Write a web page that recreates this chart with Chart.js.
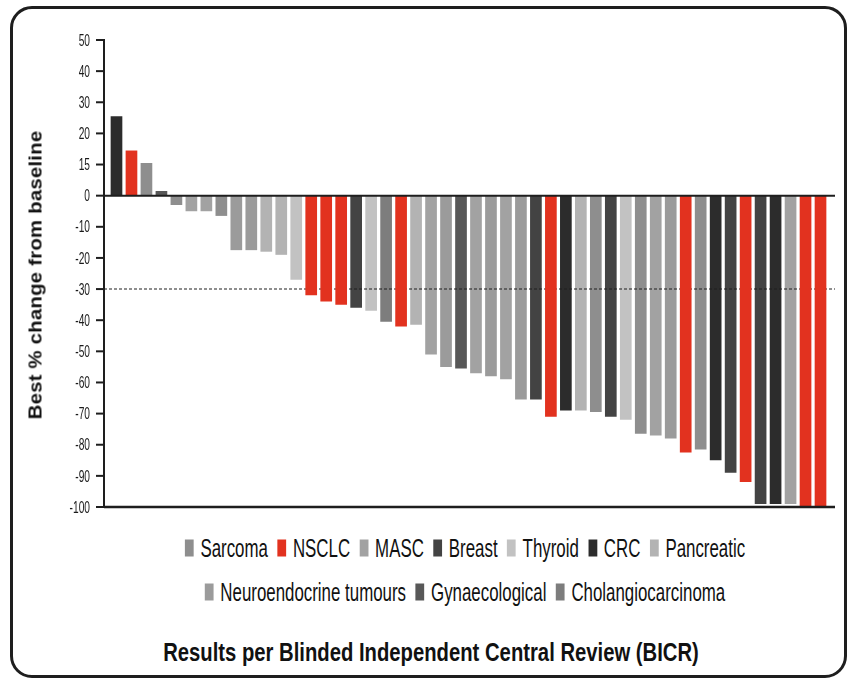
<!DOCTYPE html>
<html>
<head>
<meta charset="utf-8">
<script src="https://cdn.jsdelivr.net/npm/chart.js@4/dist/chart.umd.min.js"></script>
<style>
  html, body { margin: 0; padding: 0; background: #ffffff; }
  body { position: relative; width: 848px; height: 679px; overflow: hidden; font-family: "Liberation Sans", Arial, sans-serif; color: #111; }
  #frame { position: absolute; left: 10px; top: 6px; width: 837px; height: 672px; box-sizing: border-box; border: 3px solid #1e1e1e; border-radius: 22px; }
  #chart { position: absolute; left: 0; top: 0; }
  #yTitle { position: absolute; left: 36px; top: 275px; white-space: nowrap; font-weight: bold; font-size: 18px; letter-spacing: 0.2px;
            transform: translate(-50%, -50%) rotate(-90deg) scaleX(1.13); }
  .legendRow { position: absolute; left: 465px; display: flex; align-items: center; white-space: nowrap; font-size: 25px;
               transform: translate(-50%, -50%) scaleX(0.675); }
  .legendItem { display: flex; align-items: center; margin: 0 7px; }
  .swatch { width: 13px; height: 17px; margin-right: 10px; }
  #caption { position: absolute; left: 431px; top: 652px; white-space: nowrap; font-weight: bold; font-size: 25px;
             transform: translate(-50%, -50%) scaleX(0.81); }
</style>
</head>
<body>
<div id="frame"></div>
<canvas id="chart" width="848" height="520"></canvas>
<div id="yTitle">Best % change from baseline</div>
<div id="legendRow1" class="legendRow" style="top:548px"></div>
<div id="legendRow2" class="legendRow" style="top:592px"></div>
<div id="caption">Results per Blinded Independent Central Review (BICR)</div>
<script>
// Tumour types and their legend colours
const tumourTypes = ['Sarcoma', 'NSCLC', 'MASC', 'Breast', 'Thyroid', 'CRC', 'Pancreatic',
                     'Neuroendocrine tumours', 'Gynaecological', 'Cholangiocarcinoma'];
const tumourColours = ['#8e8e8e', '#e2321f', '#a2a2a2', '#434343', '#c2c2c2', '#2c2c2c', '#b3b3b3',
                       '#9b9b9b', '#585858', '#7d7d7d'];
const legendRows = [7, 3];

// Best % change from baseline per patient, in waterfall order
const bestChange = [25.5, 14.5, 10.5, 1.5, -3, -5, -5, -6.5, -17.5, -17.5, -18, -19, -27,
                    -32, -34, -35, -36, -37, -40.5, -42, -41.5, -51, -55, -55.5, -57, -58, -59,
                    -65.5, -65.5, -71, -69, -69, -69.5, -71, -72, -76.5, -77, -78, -82.5, -81.5,
                    -85, -89, -92, -99, -99, -99, -100, -100];
const patientTumour = ['CRC', 'NSCLC', 'Sarcoma', 'Gynaecological', 'Sarcoma', 'MASC', 'MASC', 'Sarcoma',
                       'Neuroendocrine tumours', 'Neuroendocrine tumours', 'Pancreatic', 'Pancreatic', 'Thyroid',
                       'NSCLC', 'NSCLC', 'NSCLC', 'Breast', 'Thyroid', 'Cholangiocarcinoma', 'NSCLC', 'Pancreatic',
                       'MASC', 'Neuroendocrine tumours', 'Gynaecological', 'MASC', 'Neuroendocrine tumours', 'MASC',
                       'Neuroendocrine tumours', 'Breast', 'NSCLC', 'CRC', 'Pancreatic', 'Sarcoma', 'Breast',
                       'Thyroid', 'Sarcoma', 'MASC', 'Neuroendocrine tumours', 'NSCLC', 'Sarcoma', 'CRC', 'Breast',
                       'NSCLC', 'Breast', 'CRC', 'MASC', 'NSCLC', 'NSCLC'];
const patientIds = bestChange.map((_, i) => 'Patient ' + (i + 1));

// Y axis ticks and their printed labels
const yTickValues = [-100, -90, -80, -70, -60, -50, -40, -30, -20, -10, 0, 10, 20, 30, 40, 50];
const yTickLabels = ['-100', '-90', '-80', '-70', '-60', '-50', '-40', '-30', '-20', '-10', '0', '15', '20', '30', '40', '50'];
const responseThreshold = -30;

// Legend built from the tumour types
(function buildLegend() {
  let start = 0;
  legendRows.forEach((count, r) => {
    const row = document.getElementById('legendRow' + (r + 1));
    tumourTypes.slice(start, start + count).forEach((type, k) => {
      const item = document.createElement('span');
      item.className = 'legendItem';
      const sw = document.createElement('span');
      sw.className = 'swatch';
      sw.style.background = tumourColours[start + k];
      const txt = document.createElement('span');
      txt.textContent = type;
      item.appendChild(sw);
      item.appendChild(txt);
      row.appendChild(item);
    });
    start += count;
  });
})();

const datasets = tumourTypes.map((type, t) => ({
  label: type,
  data: bestChange.map((v, i) => (patientTumour[i] === type ? v : null)),
  backgroundColor: tumourColours[t],
  borderWidth: 0,
  barPercentage: 0.78,
  categoryPercentage: 1,
  order: type === 'NSCLC' ? 1 : 2
}));

const AXIS_INSET = 5;     // y axis line sits a little left of the first bar slot
const LINE_OVERRUN = 7;   // horizontal rules run a little past the last bar slot
const TICK_LEN = 8;
const INK = '#1e1e1e';

function hRule(ctx, chart, value, width, dash) {
  const y = chart.scales.y.getPixelForValue(value);
  ctx.save();
  ctx.strokeStyle = INK;
  ctx.lineWidth = width;
  ctx.setLineDash(dash || []);
  ctx.beginPath();
  ctx.moveTo(chart.chartArea.left - AXIS_INSET, y);
  ctx.lineTo(chart.chartArea.right + LINE_OVERRUN, y);
  ctx.stroke();
  ctx.restore();
}

const waterfallAxes = {
  id: 'waterfallAxes',
  beforeDatasetDraw(chart, args) {
    // threshold rule sits over the grey bars but under the NSCLC bars
    if (chart.data.datasets[args.index].label === 'NSCLC') {
      hRule(chart.ctx, chart, responseThreshold, 1.1, [3, 2]);
    }
  },
  afterDatasetsDraw(chart) {
    const ctx = chart.ctx;
    const ys = chart.scales.y;
    const x0 = chart.chartArea.left - AXIS_INSET;
    hRule(ctx, chart, 0, 2);
    hRule(ctx, chart, ys.min, 2.4);
    ctx.save();
    ctx.strokeStyle = INK;
    ctx.lineWidth = 2;
    ctx.beginPath();
    ctx.moveTo(x0, ys.getPixelForValue(ys.max) - 1);
    ctx.lineTo(x0, ys.getPixelForValue(ys.min) + 1);
    ctx.stroke();
    ys.ticks.forEach((tick) => {
      const y = ys.getPixelForValue(tick.value);
      ctx.beginPath();
      ctx.moveTo(x0 - TICK_LEN, y);
      ctx.lineTo(x0, y);
      ctx.stroke();
      ctx.save();
      ctx.translate(x0 - TICK_LEN - 6, y);
      ctx.scale(0.6, 1);
      ctx.fillStyle = '#1a1a1a';
      ctx.font = '17px "Liberation Sans", Arial, sans-serif';
      ctx.textAlign = 'right';
      ctx.textBaseline = 'middle';
      ctx.fillText(tick.label, 0, 1);
      ctx.restore();
    });
    ctx.restore();
  }
};

new Chart(document.getElementById('chart'), {
  type: 'bar',
  data: { labels: patientIds, datasets },
  options: {
    responsive: false,
    animation: false,
    devicePixelRatio: 1,
    layout: { padding: { top: 40, bottom: 13, left: 0, right: 20 } },
    plugins: { legend: { display: false }, tooltip: { enabled: false } },
    scales: {
      x: { stacked: true, display: false },
      y: {
        stacked: true,
        min: -100,
        max: 50,
        afterFit(scale) { scale.width = 109; },
        afterBuildTicks(scale) { scale.ticks = yTickValues.map((v) => ({ value: v })); },
        ticks: {
          display: false,
          callback: (value) => yTickLabels[yTickValues.indexOf(value)]
        },
        grid: { display: false, drawTicks: false },
        border: { display: false }
      }
    }
  },
  plugins: [waterfallAxes]
});
</script>
</body>
</html>
